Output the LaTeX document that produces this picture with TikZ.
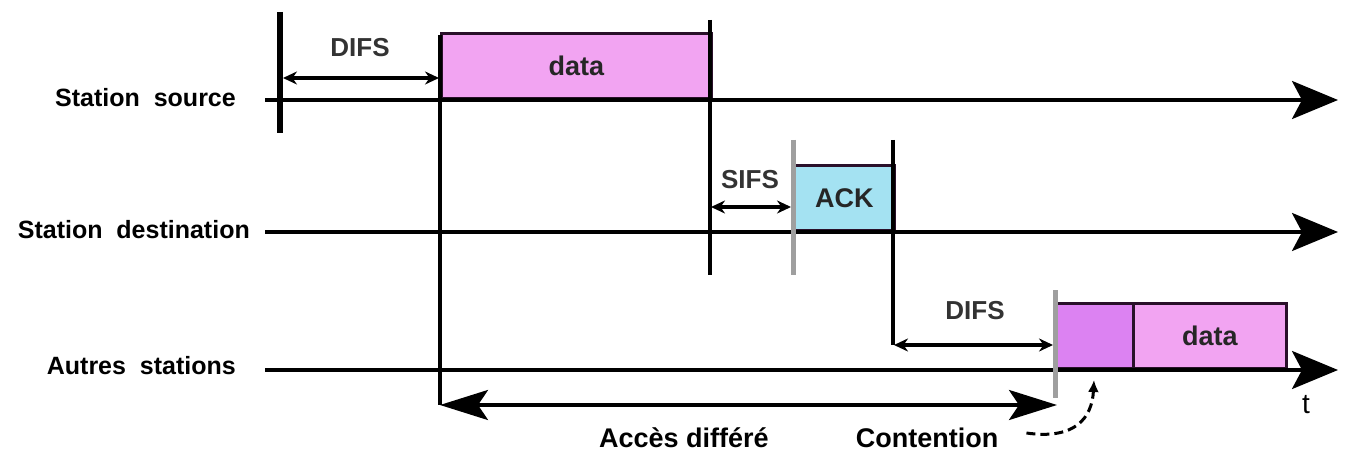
\documentclass[tikz,border=0pt]{standalone}
\usepackage{fontspec}
\setmainfont{Liberation Sans}
\usetikzlibrary{arrows.meta}
\definecolor{datapink}{HTML}{F2A4F2}
\definecolor{contviolet}{HTML}{DC82F2}
\definecolor{ackblue}{HTML}{A4E2F2}
\definecolor{boxedge}{HTML}{2A102A}
\tikzset{
  axis/.style={line width=3.4pt, -{Stealth[length=46pt,width=38pt,inset=10pt]}},
  tick/.style={line width=3.2pt},
  greytick/.style={line width=5pt, gray!75},
  bigtick/.style={line width=5.5pt},
  span/.style={line width=3.2pt, {Stealth[length=14pt,width=13pt]}-{Stealth[length=14pt,width=13pt]}},
  wide/.style={line width=3.4pt, {Stealth[length=48pt,width=30pt,inset=10pt]}-{Stealth[length=48pt,width=30pt,inset=10pt]}},
  frame/.style={draw=boxedge, line width=2.8pt, inner sep=0pt, anchor=south west},
  rowlabel/.style={font=\fontsize{25}{30}\selectfont\bfseries, anchor=east, inner sep=0pt},
  tag/.style={font=\fontsize{26}{32}\selectfont\bfseries, text=black!80, inner sep=0pt},
  boxtext/.style={font=\fontsize{27}{32}\selectfont\bfseries, text=black!85, inner sep=0pt},
  foot/.style={font=\fontsize{27}{32}\selectfont\bfseries, inner sep=0pt}
}
\begin{document}
\begin{tikzpicture}[x=1pt, y=-1pt]
\useasboundingbox (0,0) rectangle (1348,462);

% time axes of the three stations
\coordinate (srcA) at (265,100);   \coordinate (srcB) at (1338,100);
\coordinate (dstA) at (265,232);   \coordinate (dstB) at (1338,232);
\coordinate (othA) at (265,370);   \coordinate (othB) at (1338,370);

\node[rowlabel] (lsrc) at (236,98) {Station\ \ source};
\node[rowlabel] (ldst) at (250,230) {Station\ \ destination};
\node[rowlabel] (loth) at (236,366) {Autres\ \ stations};

% frames
\node[frame, fill=datapink, minimum width=270pt, minimum height=65pt] (data1) at (440,100) {};
\node[boxtext] at (data1.center) {data};
\node[frame, fill=ackblue, minimum width=100pt, minimum height=65pt] (ack) at (793,232) {};
\node[boxtext] at (ack.center) {ACK};
\node[frame, fill=contviolet, minimum width=77pt, minimum height=65pt] (cont) at (1055,370) {};
\node[frame, fill=datapink, minimum width=153pt, minimum height=65pt] (data2) at (1132,370) {};
\node[boxtext] at (data2.center) {data};

\draw[axis] (srcA) -- (srcB);
\draw[axis] (dstA) -- (dstB);
\draw[axis] (othA) -- (othB);

% vertical markers
\coordinate (m0t) at (280,12);   \coordinate (m0b) at (280,133);
\coordinate (m1t) at (440,35);   \coordinate (m1b) at (440,405);
\coordinate (m2t) at (710,20);   \coordinate (m2b) at (710,275);
\coordinate (m3t) at (793,140);  \coordinate (m3b) at (793,275);
\coordinate (m4t) at (893,140);  \coordinate (m4b) at (893,345);
\coordinate (m5t) at (1055,290); \coordinate (m5b) at (1055,398);
\draw[bigtick] (m0t) -- (m0b);
\draw[tick] (m1t) -- (m1b);
\draw[tick] (m2t) -- (m2b);
\draw[greytick] (m3t) -- (m3b);
\draw[tick] (m4t) -- (m4b);
\draw[greytick] (m5t) -- (m5b);

% inter-frame spaces
\coordinate (d1a) at (283,78);  \coordinate (d1b) at (439,78);
\draw[span, line width=4.5pt] (d1a) -- (d1b);
\node[tag] (difs1) at (360,48) {DIFS};
\coordinate (s1a) at (711,207); \coordinate (s1b) at (791,207);
\draw[span] (s1a) -- (s1b);
\node[tag] (sifs) at (750,180) {SIFS};
\coordinate (d2a) at (894,345); \coordinate (d2b) at (1053,345);
\draw[span] (d2a) -- (d2b);
\node[tag] (difs2) at (975,311) {DIFS};

% deferred access
\coordinate (wa) at (440,405); \coordinate (wb) at (1057,405);
\draw[wide] (wa) -- (wb);
\node[foot] (acces) at (684,438) {Accès différé};
\node[foot] (contention) at (927,438) {Contention};
\node[font=\fontsize{28}{32}\selectfont, inner sep=0pt] (t) at (1306,405) {t};

% pointer to the contention window
\coordinate (pt) at (1094,380);
\draw[line width=3pt, dashed, dash pattern=on 9pt off 5pt, -{Latex[length=12pt,width=11pt]}]
  (contention.east) ++(28pt,5pt) .. controls (1075,440) and (1092,418) .. (pt);
\end{tikzpicture}
\end{document}
